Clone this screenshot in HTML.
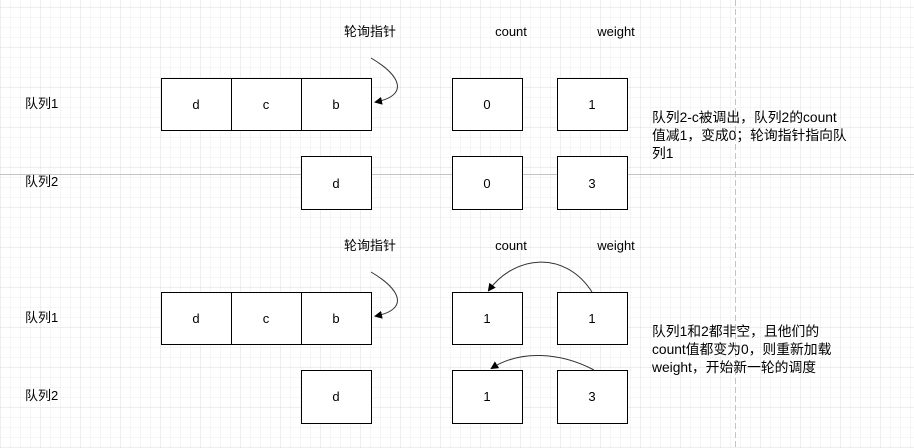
<!DOCTYPE html><html><head><meta charset="utf-8"><style>
body{margin:0;width:914px;height:448px;overflow:hidden;background:#fff;font-family:"Liberation Sans","Noto Sans CJK SC",sans-serif;}
svg{position:absolute;left:0;top:0}
</style></head><body>
<svg width="914" height="448" xmlns="http://www.w3.org/2000/svg" font-family="Liberation Sans, Noto Sans CJK SC, sans-serif" font-size="13">
<defs>
<pattern id="g" x="1" y="8" width="10" height="10" patternUnits="userSpaceOnUse"><path d="M10 0V10M0 10H10" fill="none" stroke="#ececec" stroke-width="1"/></pattern>
<pattern id="G" x="1" y="8" width="40" height="40" patternUnits="userSpaceOnUse"><path d="M40 0V40M0 40H40" fill="none" stroke="#dcdcdc" stroke-width="1"/></pattern>
<marker id="a" markerWidth="8" markerHeight="8" refX="6" refY="4" orient="auto" markerUnits="userSpaceOnUse"><path d="M0,0L8,4L0,8z" fill="#000"/></marker>
</defs>
<rect width="914" height="448" fill="url(#g)"/>
<rect width="914" height="448" fill="url(#G)"/>
<line x1="0" y1="174.5" x2="914" y2="174.5" stroke="#c4c4c4"/>
<line x1="735.5" y1="0" x2="735.5" y2="448" stroke="#c4c4c4" stroke-dasharray="6,3"/>
<g fill="#fff" stroke="#000" stroke-width="1">
<rect x="161.5" y="78.5" width="70" height="52"/><rect x="231.5" y="78.5" width="70" height="52"/><rect x="301.5" y="78.5" width="70" height="52"/>
<rect x="452.5" y="78.5" width="70" height="52"/><rect x="557.5" y="78.5" width="70" height="52"/>
<rect x="301.5" y="156.5" width="70" height="53"/><rect x="452.5" y="156.5" width="70" height="53"/><rect x="557.5" y="156.5" width="70" height="53"/>
<rect x="161.5" y="292.5" width="70" height="52"/><rect x="231.5" y="292.5" width="70" height="52"/><rect x="301.5" y="292.5" width="70" height="52"/>
<rect x="452.5" y="292.5" width="70" height="52"/><rect x="557.5" y="292.5" width="70" height="52"/>
<rect x="301.5" y="370.5" width="70" height="53"/><rect x="452.5" y="370.5" width="70" height="53"/><rect x="557.5" y="370.5" width="70" height="53"/>
</g>
<g text-anchor="middle" fill="#000">
<text x="196" y="109">d</text><text x="266" y="109">c</text><text x="336" y="109">b</text>
<text x="487" y="109">0</text><text x="592" y="109">1</text>
<text x="336" y="188">d</text><text x="487" y="188">0</text><text x="592" y="188">3</text>
<text x="196" y="323">d</text><text x="266" y="323">c</text><text x="336" y="323">b</text>
<text x="487" y="323">1</text><text x="592" y="323">1</text>
<text x="336" y="401">d</text><text x="487" y="401">1</text><text x="592" y="401">3</text>
<text x="370" y="36">轮询指针</text><text x="511" y="36">count</text><text x="616" y="36">weight</text>
<text x="370" y="250">轮询指针</text><text x="511" y="250">count</text><text x="616" y="250">weight</text>
</g>
<g fill="#000">
<text x="25" y="108">队列1</text><text x="25" y="186">队列2</text>
<text x="25" y="322">队列1</text><text x="25" y="400">队列2</text>
<g font-size="13.8">
<text x="652" y="122">队列2-c被调出，队列2的count</text>
<text x="652" y="140">值减1，变成0；轮询指针指向队</text>
<text x="652" y="158">列1</text>
<text x="652" y="336">队列1和2都非空，且他们的</text>
<text x="652" y="354">count值都变为0，则重新加载</text>
<text x="652" y="372">weight，开始新一轮的调度</text>
</g>
</g>
<g fill="none" stroke="#333" stroke-width="1">
<path d="M371 58 C400 75 410 95 376 102" marker-end="url(#a)"/>
<path d="M371 272 C400 289 410 309 376 316" marker-end="url(#a)"/>
<path d="M592 292 C565 250 515 255 489 290" marker-end="url(#a)"/>
<path d="M594 370 C560 352 520 350 492 368" marker-end="url(#a)"/>
</g>
</svg>
</body></html>
